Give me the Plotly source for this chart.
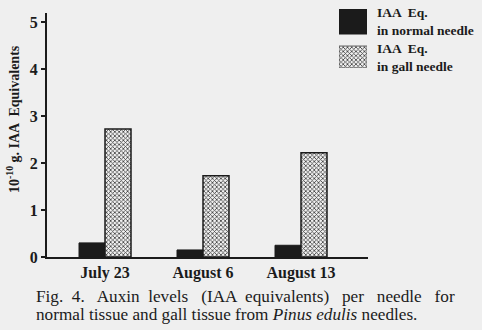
import plotly.graph_objects as go

dates = ["July 23", "August 6", "August 13"]
normal_needle = [0.30, 0.15, 0.25]
gall_needle = [2.73, 1.73, 2.22]
y_ticks = [0, 1, 2, 3, 4, 5]

BG = "#efefef"
INK = "#1b1b1b"
SERIF = "Liberation Serif, Times New Roman, serif"

L, R, T, B = 47, 12, 5, 73
W, H = 482, 330
PW, PH = W - L - R, H - T - B


def px_x(p):
    return (p - L) / PW


def px_y(p):
    return (H - B - p) / PH


xs = list(range(len(dates)))
bw = 26 / 98

DOTS = dict(shape="x", size=3, solidity=0.45,
            fgcolor="#3a3a3a", bgcolor="#f0f0f0", fillmode="replace")

fig = go.Figure()
fig.add_trace(go.Bar(
    x=xs, y=normal_needle, width=bw, offset=-bw,
    marker=dict(color=INK, line=dict(color=INK, width=1)),
    showlegend=False, xaxis="x", yaxis="y",
))
fig.add_trace(go.Bar(
    x=xs, y=gall_needle, width=bw, offset=0,
    marker=dict(color="#e6e6e6", line=dict(color=INK, width=1.5), pattern=DOTS),
    showlegend=False, xaxis="x", yaxis="y",
))

# legend swatches drawn on a small helper axis
fig.add_trace(go.Bar(
    x=[0.5], y=[25], base=[9], width=1,
    marker=dict(color=INK, line=dict(color=INK, width=1)),
    showlegend=False, xaxis="x2", yaxis="y2", hoverinfo="skip",
))
fig.add_trace(go.Bar(
    x=[0.5], y=[22], base=[46], width=1,
    marker=dict(color="#e6e6e6", line=dict(color="#666666", width=1), pattern=DOTS),
    showlegend=False, xaxis="x2", yaxis="y2", hoverinfo="skip",
))

fig.update_layout(
    width=W, height=H,
    margin=dict(l=L, r=R, t=T, b=B, pad=0),
    paper_bgcolor=BG, plot_bgcolor="rgba(0,0,0,0)",
    font=dict(family=SERIF, color=INK, size=13),
    barmode="overlay",
    xaxis=dict(
        domain=[0, px_x(368)], range=[-58 / 98, 263 / 98],
        tickvals=xs, ticktext=["<b>%s</b>" % d for d in dates],
        showline=True, linecolor=INK, linewidth=2, ticks="",
        showgrid=False, zeroline=False, tickfont=dict(size=16, family=SERIF),
        fixedrange=True,
    ),
    yaxis=dict(
        domain=[0, px_y(13)], range=[0, 5.2],
        tickvals=y_ticks, ticktext=["<b>%d</b>" % v for v in y_ticks],
        showline=True, linecolor=INK, linewidth=2, ticks="outside", ticklen=4,
        tickwidth=1.5, tickcolor=INK,
        showgrid=False, zeroline=False, tickfont=dict(size=16, family=SERIF),
        fixedrange=True,
    ),
    xaxis2=dict(domain=[px_x(339), px_x(367)], range=[0, 1], anchor="y2",
                visible=False, fixedrange=True),
    yaxis2=dict(domain=[px_y(68), px_y(9)], range=[68, 9], anchor="x2",
                visible=False, fixedrange=True),
    annotations=[
        dict(xref="paper", yref="paper", x=px_x(375), y=px_y(21),
             xanchor="left", yanchor="middle", align="left", showarrow=False,
             text="<b>IAA  Eq.</b><br><b>in normal needle</b>",
             font=dict(size=13.5, family=SERIF, color=INK)),
        dict(xref="paper", yref="paper", x=px_x(375), y=px_y(57),
             xanchor="left", yanchor="middle", align="left", showarrow=False,
             text="<b>IAA  Eq.</b><br><b>in gall needle</b>",
             font=dict(size=13.5, family=SERIF, color=INK)),
        dict(xref="paper", yref="paper", x=px_x(13), y=px_y(119),
             xanchor="center", yanchor="middle", showarrow=False, textangle=-90,
             text="<b>10<sup>-10</sup> g. IAA  Equivalents</b>",
             font=dict(size=14, family=SERIF, color=INK)),
        dict(xref="paper", yref="paper", x=px_x(34), y=px_y(296),
             xanchor="left", yanchor="middle", align="left", showarrow=False,
             text="Fig.  4.   Auxin  levels   (IAA  equivalents)   per   needle   for",
             font=dict(size=17.2, family=SERIF, color=INK)),
        dict(xref="paper", yref="paper", x=px_x(34), y=px_y(314),
             xanchor="left", yanchor="middle", align="left", showarrow=False,
             text="normal tissue and gall tissue from <i>Pinus edulis</i> needles.",
             font=dict(size=17.2, family=SERIF, color=INK)),
    ],
)

fig.write_html("out.html")
